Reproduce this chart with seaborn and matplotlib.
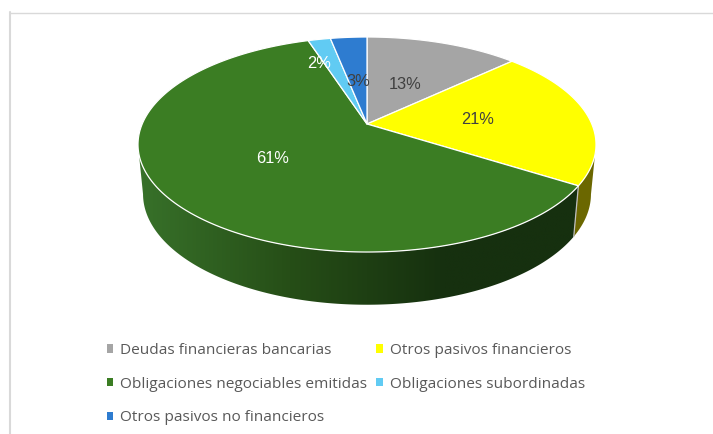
import numpy as np
import matplotlib
matplotlib.use("Agg")
import matplotlib.pyplot as plt
from matplotlib.colors import LinearSegmentedColormap
from matplotlib.patches import Patch, Polygon
import seaborn as sns

categories = ["Deudas financieras bancarias", "Otros pasivos financieros",
              "Obligaciones negociables emitidas", "Obligaciones subordinadas",
              "Otros pasivos no financieros"]
shares = [13.0, 21.0, 61.0, 1.9, 3.1]
labels = ["13%", "21%", "61%", "2%", "3%"]

colors = ["#A5A5A5", "#FFFF00", "#3B7D23", "#61CBF3", "#2E7CD0"]
wall_colors = ["#5A5A5A", "#6B6700", "#3B7D23", "#2E6F88", "#174070"]
label_colors = ["#404040", "#404040", "#FFFFFF", "#FFFFFF", "#404040"]
label_r = [0.46, 0.50, 0.50, 0.68, 0.45]
label_dx = [0, 0, 0, -14, 0]

sns.set_theme(style="white")
plt.rcParams["font.family"] = ["Open Sans", "DejaVu Sans"]

fig = plt.figure(figsize=(7.13, 4.34), dpi=100)
ax = fig.add_axes([0, 0, 1, 1])

# Projection of the unit disc (perspective view of a 3D pie)
CX, CY = 367.0, 124.0
A, B, K = 224.8, 103.6, 0.1907
ELL_Y = 144.5
SX, SY, BASE_Y = 0.978, 1.03, 194.0


def top(theta, r=1.0):
    u, v = r * np.sin(theta), r * np.cos(theta)
    d = 1 + K * v
    return CX + A * u / d, CY - B * v / d


def base(theta):
    x, y = top(theta)
    return CX + SX * (x - CX), BASE_Y + SY * (y - ELL_Y)


edges = np.radians(np.concatenate([[0], np.cumsum(shares)]) * 3.6)

# Side walls: only the part of each slice that faces the viewer,
# running between the left and right silhouette points of the disc
wall_cmap = LinearSegmentedColormap.from_list("wall", ["#38722A", "#264E17", "#16300F", "#16300F"])
for i, c in enumerate(wall_colors):
    th = np.linspace(edges[i], edges[i + 1], 400)
    th = th[np.cos(th) < -K]
    if th.size < 2:
        continue
    xt, yt = top(th)
    xb, yb = base(th)
    outline = np.column_stack([np.r_[xt, xb[::-1]], np.r_[yt, yb[::-1]]])
    if i == 2:
        # horizontal gradient clipped to the wall outline
        img = ax.imshow(np.linspace(0, 1, 256)[None, :], cmap=wall_cmap, aspect="auto",
                        extent=(135, 600, 320, 130), zorder=2, interpolation="bilinear")
        img.set_clip_path(Polygon(outline, closed=True, transform=ax.transData))
    else:
        ax.add_patch(Polygon(outline, closed=True, facecolor=c, edgecolor="none", zorder=2))

ax.set_xlim(0, 713)
ax.set_ylim(434, 0)
ax.axis("off")

# Seam on the wall between the yellow and the green slice
xa, ya = top(edges[2])
xb, yb = base(edges[2])
ax.plot([xa, xb], [ya, yb], color="#BFBFBF", lw=0.9, zorder=3)

# Top surface
for i, c in enumerate(colors):
    th = np.linspace(edges[i], edges[i + 1], max(int(shares[i] * 6), 8))
    x, y = top(th)
    ax.fill(np.r_[CX, x], np.r_[CY, y], facecolor=c, edgecolor="white",
            lw=0.9, joinstyle="round", zorder=4)

# Data labels
mids = (edges[:-1] + edges[1:]) / 2
for m, r, dx, txt, col in zip(mids, label_r, label_dx, labels, label_colors):
    x, y = top(m, r)
    ax.text(x + dx, y + 0.5, txt, color=col, ha="center", va="center", fontsize=11.8,
            family=["Liberation Sans", "DejaVu Sans"], zorder=6)

# Chart frame (top and left edges visible in the crop)
ax.plot([713, 10], [12.5, 12.5], color="#D9D9D9", lw=1.0, zorder=1)
ax.plot([10, 10], [12, 434], color="#D9D9D9", lw=1.5, zorder=1)

# Legend: matplotlib fills columns first
order = [0, 2, 4, 1, 3]
handles = [Patch(facecolor=colors[i], edgecolor="none", label=categories[i]) for i in order]
ax.legend(handles=handles, ncols=2, loc="upper left", bbox_to_anchor=(106.5 / 713, 1 - 343 / 434),
          frameon=False, fontsize=11.1, labelcolor="#595959", handlelength=0.45, handleheight=0.45,
          handletextpad=0.45, columnspacing=0.55, labelspacing=1.21, borderpad=0, borderaxespad=0)

fig.savefig("out.png", dpi=100)
